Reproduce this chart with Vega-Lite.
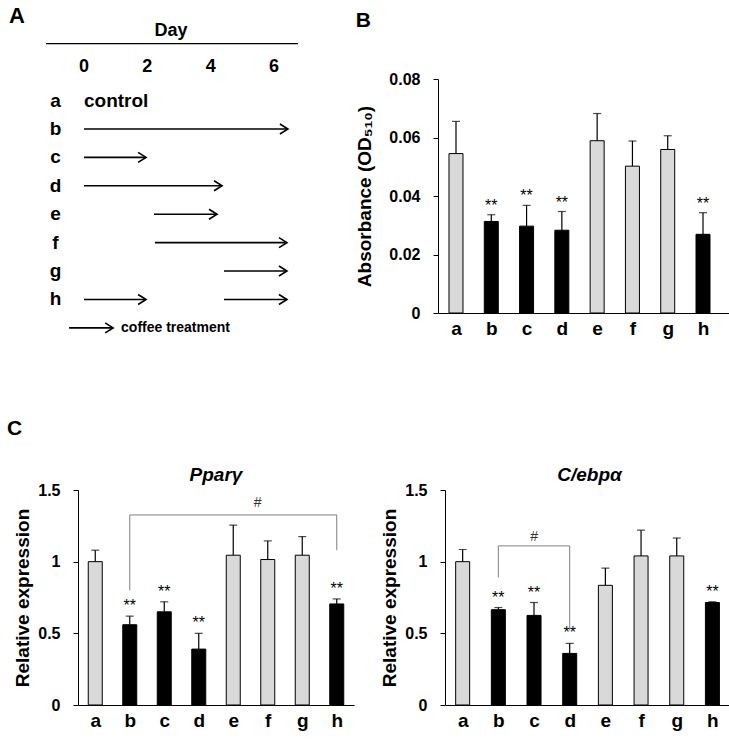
{
  "$schema": "https://vega.github.io/schema/vega-lite/v6.json",
  "background": "white",
  "padding": {"left": 6, "top": 4, "right": 0, "bottom": 0},
  "config": {
    "font": "Liberation Sans",
    "view": {"stroke": "transparent"},
    "axis": {"grid": false, "domainColor": "black", "tickColor": "black", "labelColor": "black", "titleColor": "black", "labelFontWeight": "bold", "titleFontWeight": "bold", "labelFont": "Liberation Sans", "titleFont": "Liberation Sans"},
    "title": {"font": "Liberation Sans", "fontWeight": "bold", "color": "black"},
    "text": {"font": "Liberation Sans", "color": "black"}
  },
  "datasets": {
    "schedule": [
      {"group": "b", "start": 0, "end": 6.44},
      {"group": "c", "start": 0, "end": 1.96},
      {"group": "d", "start": 0, "end": 4.36},
      {"group": "e", "start": 2.21, "end": 4.2},
      {"group": "f", "start": 2.24, "end": 6.41},
      {"group": "g", "start": 4.42, "end": 6.41},
      {"group": "h", "start": 0, "end": 1.96},
      {"group": "h", "start": 4.42, "end": 6.41}
    ],
    "treatments": [
      {"group": "a", "note": "control"},
      {"group": "b"}, {"group": "c"}, {"group": "d"}, {"group": "e"},
      {"group": "f"}, {"group": "g"}, {"group": "h"}
    ],
    "days": [{"day": 0}, {"day": 2}, {"day": 4}, {"day": 6}],
    "absorbance": [
      {"group": "a", "mean": 0.0545, "upper": 0.0655, "star": ""},
      {"group": "b", "mean": 0.0313, "upper": 0.0336, "star": "**"},
      {"group": "c", "mean": 0.0297, "upper": 0.0368, "star": "**"},
      {"group": "d", "mean": 0.0283, "upper": 0.0347, "star": "**"},
      {"group": "e", "mean": 0.0589, "upper": 0.0682, "star": ""},
      {"group": "f", "mean": 0.0502, "upper": 0.0588, "star": ""},
      {"group": "g", "mean": 0.0559, "upper": 0.0606, "star": ""},
      {"group": "h", "mean": 0.0269, "upper": 0.0343, "star": "**"}
    ],
    "pparg": [
      {"group": "a", "mean": 1.0, "upper": 1.08, "star": ""},
      {"group": "b", "mean": 0.56, "upper": 0.62, "star": "**"},
      {"group": "c", "mean": 0.65, "upper": 0.72, "star": "**"},
      {"group": "d", "mean": 0.39, "upper": 0.5, "star": "**"},
      {"group": "e", "mean": 1.045, "upper": 1.255, "star": ""},
      {"group": "f", "mean": 1.015, "upper": 1.145, "star": ""},
      {"group": "g", "mean": 1.045, "upper": 1.175, "star": ""},
      {"group": "h", "mean": 0.705, "upper": 0.74, "star": "**"}
    ],
    "cebpa": [
      {"group": "a", "mean": 1.0, "upper": 1.085, "star": ""},
      {"group": "b", "mean": 0.665, "upper": 0.68, "star": "**"},
      {"group": "c", "mean": 0.625, "upper": 0.715, "star": "**"},
      {"group": "d", "mean": 0.36, "upper": 0.43, "star": "**"},
      {"group": "e", "mean": 0.835, "upper": 0.955, "star": ""},
      {"group": "f", "mean": 1.04, "upper": 1.22, "star": ""},
      {"group": "g", "mean": 1.04, "upper": 1.165, "star": ""},
      {"group": "h", "mean": 0.715, "upper": 0.72, "star": "**"}
    ],
    "pparg_bracket": [
      {"from": "b", "to": "h", "top": 1.326, "left_end": 0.8, "right_end": 1.08, "mark_at": "f", "mark_y": 1.41, "label": "#"}
    ],
    "cebpa_bracket": [
      {"from": "b", "to": "d", "top": 1.11, "left_end": 0.89, "right_end": 0.52, "mark_at": "c", "mark_y": 1.17, "label": "#"}
    ]
  },
  "spacing": 68,
  "vconcat": [
    {
      "spacing": 53,
      "hconcat": [
        {
          "width": 294,
          "height": 341,
          "layer": [
            {
              "data": {"name": "schedule"},
              "mark": {"type": "rule", "color": "black", "strokeWidth": 1.6},
              "encoding": {
                "x": {"field": "start", "type": "quantitative", "scale": {"domain": [-2.432, 6.853], "nice": false, "zero": false}, "axis": null},
                "x2": {"field": "end"},
                "y": {"field": "group", "type": "nominal", "scale": {"type": "point", "domain": ["rule", "ticks", "a", "b", "c", "d", "e", "f", "g", "h", "key"], "padding": 1.116, "align": 0.646}, "axis": null}
              }
            },
            {
              "data": {"name": "schedule"},
              "mark": {"type": "point", "shape": "M -1.6 -1 L 0 0 L -1.6 1", "filled": false, "size": 100, "strokeWidth": 1.6, "color": "black", "opacity": 1},
              "encoding": {
                "x": {"field": "end", "type": "quantitative"},
                "y": {"field": "group", "type": "nominal"}
              }
            },
            {
              "data": {"values": [{"label": "Day"}]},
              "mark": {"type": "rule", "color": "black", "strokeWidth": 1.2},
              "encoding": {"x": {"datum": -1.2}, "x2": {"datum": 6.758}, "y": {"datum": "rule"}}
            },
            {
              "data": {"values": [{"label": "Day"}]},
              "mark": {"type": "text", "fontSize": 18, "fontWeight": "bold", "align": "center", "baseline": "middle", "dy": -13},
              "encoding": {"x": {"datum": 2.75}, "y": {"datum": "rule"}, "text": {"field": "label"}}
            },
            {
              "data": {"values": [{"label": "A"}]},
              "mark": {"type": "text", "fontSize": 22, "fontWeight": "bold", "align": "left", "baseline": "middle", "dy": -28},
              "encoding": {"x": {"datum": -2.37}, "y": {"datum": "rule"}, "text": {"field": "label"}}
            },
            {
              "data": {"name": "days"},
              "mark": {"type": "text", "fontSize": 18, "fontWeight": "bold", "align": "center", "baseline": "middle", "dy": -5},
              "encoding": {"x": {"field": "day", "type": "quantitative"}, "y": {"datum": "ticks"}, "text": {"field": "day"}}
            },
            {
              "data": {"name": "treatments"},
              "mark": {"type": "text", "fontSize": 19, "fontWeight": "bold", "align": "center", "baseline": "middle"},
              "encoding": {
                "x": {"datum": -0.9},
                "y": {"field": "group", "type": "nominal"},
                "text": {"field": "group"}
              }
            },
            {
              "data": {"name": "treatments"},
              "transform": [{"filter": "datum.note"}],
              "mark": {"type": "text", "fontSize": 19, "fontWeight": "bold", "align": "left", "baseline": "middle"},
              "encoding": {
                "x": {"datum": 0},
                "y": {"field": "group", "type": "nominal"},
                "text": {"field": "note"}
              }
            },
            {
              "data": {"values": [{"label": "coffee treatment"}]},
              "mark": {"type": "rule", "color": "black", "strokeWidth": 1.6},
              "encoding": {"x": {"datum": -0.47}, "x2": {"datum": 0.92}, "y": {"datum": "key"}}
            },
            {
              "data": {"values": [{"label": "coffee treatment"}]},
              "mark": {"type": "point", "shape": "M -1.6 -1 L 0 0 L -1.6 1", "filled": false, "size": 100, "strokeWidth": 1.6, "color": "black", "opacity": 1},
              "encoding": {"x": {"datum": 0.92}, "y": {"datum": "key"}}
            },
            {
              "data": {"values": [{"label": "coffee treatment"}]},
              "mark": {"type": "text", "fontSize": 14, "fontWeight": "bold", "align": "left", "baseline": "middle"},
              "encoding": {"x": {"datum": 1.17}, "y": {"datum": "key"}, "text": {"field": "label"}}
            }
          ]
        },
        {
          "spacing": 1,
          "vconcat": [
            {"width": 1, "height": 1, "data": {"values": []}, "mark": "point"},
            {
              "title": {"text": "B", "anchor": "start", "frame": "bounds", "fontSize": 21, "offset": 40},
              "width": 295,
              "height": 234,
              "data": {"name": "absorbance"},
              "layer": [
                {
                  "mark": {"type": "rule", "color": "black", "strokeWidth": 1.2},
                  "encoding": {
                    "x": {"field": "group", "type": "nominal", "scale": {"type": "point", "domain": ["a", "b", "c", "d", "e", "f", "g", "h"], "padding": 0.68, "align": 0.375},
                          "axis": {"title": null, "ticks": false, "labelPadding": 6, "labelAngle": 0, "labelFontSize": 19}},
                    "y": {"field": "mean", "type": "quantitative", "scale": {"domain": [0, 0.08], "nice": false},
                          "axis": {"title": "Absorbance (OD₅₁₀)", "values": [0, 0.02, 0.04, 0.06, 0.08], "format": "~g", "tickSize": 5, "labelPadding": 13, "labelFontSize": 16, "titleFontSize": 19, "titlePadding": 14}},
                    "y2": {"field": "upper"}
                  }
                },
                {
                  "mark": {"type": "tick", "color": "black", "thickness": 1.2, "size": 8},
                  "encoding": {
                    "x": {"field": "group", "type": "nominal"},
                    "y": {"field": "upper", "type": "quantitative"}
                  }
                },
                {
                  "mark": {"type": "bar", "size": 14, "stroke": "black", "strokeWidth": 1},
                  "encoding": {
                    "x": {"field": "group", "type": "nominal"},
                    "y": {"field": "mean", "type": "quantitative"},
                    "fill": {"field": "star", "type": "nominal", "scale": {"domain": ["", "**"], "range": ["#d9d9d9", "black"]}, "legend": null}
                  }
                },
                {
                  "mark": {"type": "text", "dy": -4, "fontSize": 16, "baseline": "alphabetic"},
                  "encoding": {
                    "x": {"field": "group", "type": "nominal"},
                    "y": {"field": "upper", "type": "quantitative"},
                    "text": {"field": "star"}
                  }
                }
              ]
            }
          ]
        }
      ]
    },
    {
      "title": {"text": "C", "anchor": "start", "frame": "bounds", "fontSize": 21, "offset": 27},
      "spacing": 25,
      "hconcat": [
        {
          "spacing": 5,
          "hconcat": [
            {"width": 1, "height": 1, "data": {"values": []}, "mark": "point"},
            {
              "title": {"text": "Pparγ", "fontStyle": "italic", "fontSize": 19, "offset": -3, "anchor": "middle", "frame": "group"},
              "width": 276,
              "height": 215,
              "layer": [
                {
                  "data": {"name": "pparg"},
                  "mark": {"type": "rule", "color": "black", "strokeWidth": 1.2},
                  "encoding": {
                    "x": {"field": "group", "type": "nominal", "scale": {"type": "point", "domain": ["a", "b", "c", "d", "e", "f", "g", "h"], "padding": 0.5},
                          "axis": {"title": null, "ticks": false, "labelPadding": 6, "labelAngle": 0, "labelFontSize": 19}},
                    "y": {"field": "mean", "type": "quantitative", "scale": {"domain": [0, 1.5], "nice": false},
                          "axis": {"title": "Relative expression", "values": [0, 0.5, 1, 1.5], "format": "~g", "tickSize": 5, "labelPadding": 13, "labelFontSize": 16, "titleFontSize": 19, "titlePadding": 5}},
                    "y2": {"field": "upper"}
                  }
                },
                {
                  "data": {"name": "pparg"},
                  "mark": {"type": "tick", "color": "black", "thickness": 1.2, "size": 8},
                  "encoding": {"x": {"field": "group", "type": "nominal"}, "y": {"field": "upper", "type": "quantitative"}}
                },
                {
                  "data": {"name": "pparg"},
                  "mark": {"type": "bar", "size": 14, "stroke": "black", "strokeWidth": 1},
                  "encoding": {
                    "x": {"field": "group", "type": "nominal"},
                    "y": {"field": "mean", "type": "quantitative"},
                    "fill": {"field": "star", "type": "nominal", "scale": {"domain": ["", "**"], "range": ["#d9d9d9", "black"]}, "legend": null}
                  }
                },
                {
                  "data": {"name": "pparg"},
                  "mark": {"type": "text", "dy": -5, "fontSize": 16, "baseline": "alphabetic"},
                  "encoding": {"x": {"field": "group", "type": "nominal"}, "y": {"field": "upper", "type": "quantitative"}, "text": {"field": "star"}}
                },
                {
                  "data": {"name": "pparg_bracket"},
                  "mark": {"type": "rule", "color": "#7f7f7f", "strokeWidth": 1},
                  "encoding": {"x": {"field": "from", "type": "nominal"}, "x2": {"field": "to"}, "y": {"field": "top", "type": "quantitative"}}
                },
                {
                  "data": {"name": "pparg_bracket"},
                  "mark": {"type": "rule", "color": "#7f7f7f", "strokeWidth": 1},
                  "encoding": {"x": {"field": "from", "type": "nominal"}, "y": {"field": "top", "type": "quantitative"}, "y2": {"field": "left_end"}}
                },
                {
                  "data": {"name": "pparg_bracket"},
                  "mark": {"type": "rule", "color": "#7f7f7f", "strokeWidth": 1},
                  "encoding": {"x": {"field": "to", "type": "nominal"}, "y": {"field": "top", "type": "quantitative"}, "y2": {"field": "right_end"}}
                },
                {
                  "data": {"name": "pparg_bracket"},
                  "mark": {"type": "text", "fontSize": 14, "dx": -10, "baseline": "middle", "color": "#333333"},
                  "encoding": {"x": {"field": "mark_at", "type": "nominal"}, "y": {"field": "mark_y", "type": "quantitative"}, "text": {"field": "label"}}
                }
              ]
            }
          ]
        },
        {
          "title": {"text": "C/ebpα", "fontStyle": "italic", "fontSize": 19, "offset": -3, "anchor": "middle", "frame": "group"},
          "width": 289,
          "height": 215,
          "layer": [
            {
              "data": {"name": "cebpa"},
              "mark": {"type": "rule", "color": "black", "strokeWidth": 1.2},
              "encoding": {
                "x": {"field": "group", "type": "nominal", "scale": {"type": "point", "domain": ["a", "b", "c", "d", "e", "f", "g", "h"], "padding": 0.55, "align": 0.45},
                      "axis": {"title": null, "ticks": false, "labelPadding": 6, "labelAngle": 0, "labelFontSize": 19}},
                "y": {"field": "mean", "type": "quantitative", "scale": {"domain": [0, 1.5], "nice": false},
                      "axis": {"title": "Relative expression", "values": [0, 0.5, 1, 1.5], "format": "~g", "tickSize": 5, "labelPadding": 13, "labelFontSize": 16, "titleFontSize": 19, "titlePadding": 5}},
                "y2": {"field": "upper"}
              }
            },
            {
              "data": {"name": "cebpa"},
              "mark": {"type": "tick", "color": "black", "thickness": 1.2, "size": 8},
              "encoding": {"x": {"field": "group", "type": "nominal"}, "y": {"field": "upper", "type": "quantitative"}}
            },
            {
              "data": {"name": "cebpa"},
              "mark": {"type": "bar", "size": 14, "stroke": "black", "strokeWidth": 1},
              "encoding": {
                "x": {"field": "group", "type": "nominal"},
                "y": {"field": "mean", "type": "quantitative"},
                "fill": {"field": "star", "type": "nominal", "scale": {"domain": ["", "**"], "range": ["#d9d9d9", "black"]}, "legend": null}
              }
            },
            {
              "data": {"name": "cebpa"},
              "mark": {"type": "text", "dy": -5, "fontSize": 16, "baseline": "alphabetic"},
              "encoding": {"x": {"field": "group", "type": "nominal"}, "y": {"field": "upper", "type": "quantitative"}, "text": {"field": "star"}}
            },
            {
              "data": {"name": "cebpa_bracket"},
              "mark": {"type": "rule", "color": "#7f7f7f", "strokeWidth": 1},
              "encoding": {"x": {"field": "from", "type": "nominal"}, "x2": {"field": "to"}, "y": {"field": "top", "type": "quantitative"}}
            },
            {
              "data": {"name": "cebpa_bracket"},
              "mark": {"type": "rule", "color": "#7f7f7f", "strokeWidth": 1},
              "encoding": {"x": {"field": "from", "type": "nominal"}, "y": {"field": "top", "type": "quantitative"}, "y2": {"field": "left_end"}}
            },
            {
              "data": {"name": "cebpa_bracket"},
              "mark": {"type": "rule", "color": "#7f7f7f", "strokeWidth": 1},
              "encoding": {"x": {"field": "to", "type": "nominal"}, "y": {"field": "top", "type": "quantitative"}, "y2": {"field": "right_end"}}
            },
            {
              "data": {"name": "cebpa_bracket"},
              "mark": {"type": "text", "fontSize": 14, "baseline": "middle", "color": "#333333"},
              "encoding": {"x": {"field": "mark_at", "type": "nominal"}, "y": {"field": "mark_y", "type": "quantitative"}, "text": {"field": "label"}}
            }
          ]
        }
      ]
    }
  ]
}
